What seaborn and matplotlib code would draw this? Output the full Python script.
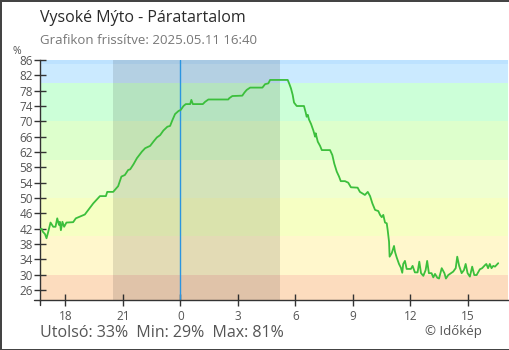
import matplotlib
matplotlib.use("Agg")
import matplotlib.pyplot as plt
import numpy as np
import pandas as pd
import seaborn as sns

# Relative humidity, hours relative to midnight (negative = previous day)
hours = [
    -7.33, -7.25, -7.18, -7.07, -6.99, -6.90, -6.78, -6.64, -6.52, -6.43,
    -6.34, -6.29, -6.24, -6.16, -6.07, -5.95, -5.60, -5.46, -4.99, -4.81,
    -4.55, -4.20, -3.89, -3.82, -3.51, -3.25, -3.08, -2.90, -2.73,
    -2.62, -2.45, -2.27, -2.01, -1.84, -1.58, -1.41, -1.23, -1.06, -0.89,
    -0.68, -0.54, -0.42, -0.28, -0.10, 0.02, 0.16, 0.28, 0.51, 0.57,
    0.65, 1.17, 1.29, 1.46, 2.50, 2.54, 2.71, 3.23, 3.34, 3.46, 3.64,
    4.28, 4.42, 4.59, 4.68, 5.60, 5.69, 5.77, 5.86, 5.93, 6.07, 6.45,
    6.54, 6.59, 6.65, 6.71, 6.82, 6.94, 7.03, 7.06, 7.17, 7.29, 7.38,
    7.81, 7.93, 8.03, 8.16, 8.28, 8.37, 8.59, 8.76, 8.90, 9.25, 9.37,
    9.63, 9.78, 9.90, 10.02, 10.16, 10.33, 10.42, 10.51, 10.59, 10.68,
    10.77, 10.82, 10.89, 10.92, 11.03, 11.15, 11.20, 11.29, 11.41, 11.51,
    11.58, 11.63, 11.72, 11.81, 12.03, 12.12, 12.24, 12.38, 12.47, 12.56,
    12.68, 12.80, 12.88, 12.97, 13.11, 13.20, 13.29, 13.41, 13.50, 13.64,
    13.78, 13.86, 13.98, 14.12, 14.24, 14.37, 14.45, 14.55, 14.68, 14.80,
    14.89, 14.99, 15.11, 15.23, 15.34, 15.46, 15.63, 15.75, 15.90, 15.97,
    16.06, 16.15, 16.24, 16.33, 16.42, 16.59,
]
humidity = [
    41.8, 42.0, 41.2, 40.6, 39.5, 41.2, 43.6, 42.5, 42.5, 44.7,
    43.0, 43.8, 41.6, 43.8, 42.5, 43.6, 43.7, 44.7, 45.7, 46.9,
    48.6, 50.5, 50.5, 51.6, 51.6, 53.1, 55.6, 56.0, 57.3,
    57.5, 58.8, 60.4, 62.1, 63.0, 63.6, 64.7, 65.8, 66.4, 67.6,
    68.6, 68.8, 70.3, 71.9, 72.7, 73.0, 74.0, 74.5, 74.5, 75.6,
    74.5, 74.5, 75.1, 75.7, 75.7, 76.0, 76.6, 76.7, 77.5, 78.2, 78.8,
    78.8, 79.7, 79.9, 80.8, 80.8, 79.7, 78.6, 76.9, 74.9, 74.0, 74.0,
    72.3, 71.2, 71.7, 70.5, 69.3, 67.6, 66.0, 66.9, 64.7, 63.6, 62.5,
    62.5, 61.2, 59.0, 56.9, 55.6, 54.4, 54.4, 54.0, 52.8, 52.7, 51.6,
    50.8, 51.6, 50.5, 48.6, 46.9, 46.6, 45.6, 45.0, 45.6, 43.6,
    43.4, 41.6, 38.6, 34.7, 35.6, 37.5, 36.0, 34.5, 32.8, 31.8,
    30.5, 32.8, 33.6, 31.5, 31.5, 32.3, 30.6, 30.6, 33.4, 30.4,
    29.7, 31.2, 33.6, 30.4, 30.4, 29.3, 30.2, 29.2, 29.0, 31.7,
    30.4, 29.0, 29.9, 30.4, 30.8, 31.7, 34.7, 32.3, 30.4, 31.2,
    32.8, 30.4, 29.5, 32.1, 29.9, 29.9, 31.4, 31.7, 32.5, 32.8,
    31.7, 32.8, 31.7, 32.3, 32.1, 33.0,
]

# Axis ticks
y_ticks = list(range(26, 87, 4))
x_ticks = [-6, -3, 0, 3, 6, 9, 12, 15]
x_tick_labels = ["18", "21", "0", "3", "6", "9", "12", "15"]

# Humidity category bands (lower, upper, colour)
band_edges = [0, 30, 40, 50, 60, 70, 80, 85, 100]
band_colors = ["#fcdcbe", "#fff7cc", "#f6ffc3", "#efffd0", "#ddffcc",
               "#ccffd8", "#cbeaff", "#bde2ff"]

# Night interval (sunset -> sunrise), hours
night = (-3.51, 5.20)

sns.set_style("ticks")
plt.rcParams["font.family"] = ["Open Sans", "DejaVu Sans"]

fig = plt.figure(figsize=(5.1, 3.5), dpi=100)
fig.patch.set_facecolor("white")
fig.patch.set_edgecolor("#444444")
fig.patch.set_linewidth(2.0)
ax = fig.add_axes([40 / 510, 50 / 350, 468 / 510, 240 / 350])

xmin, xmax = -7.33, 17.10
ymin, ymax = 23.4, 86.0

for lo, hi, col in zip(band_edges[:-1], band_edges[1:], band_colors):
    ax.axhspan(lo, hi, color=col, lw=0, zorder=0)

ax.axvspan(night[0], night[1], color="black", alpha=0.11, lw=0, zorder=1)
ax.axvline(0, color="#2b95e0", lw=1.0, zorder=2)

df = pd.DataFrame({"hour": hours, "rh": humidity})
sns.lineplot(data=df, x="hour", y="rh", ax=ax, color="#3cbf3c",
             lw=1.3, zorder=3, estimator=None, sort=False)

ax.set_xlim(xmin, xmax)
ax.set_ylim(ymin, ymax)
ax.set_xlabel("")
ax.set_ylabel("")
ax.set_yticks(y_ticks)
ax.set_yticklabels([str(t) for t in y_ticks])
ax.set_xticks(x_ticks)
ax.set_xticklabels(x_tick_labels)
ax.tick_params(axis="both", direction="inout", length=8, width=1.0,
               color="#333333", labelcolor="#555555", labelsize=8.5, pad=1)
ax.tick_params(axis="x", pad=3)

for side in ("top", "right"):
    ax.spines[side].set_visible(False)
for side in ("left", "bottom"):
    ax.spines[side].set_color("#333333")
    ax.spines[side].set_linewidth(1.0)

# spines extended a little past the corner
ax.plot([-6 / 468, 0], [0, 0], transform=ax.transAxes, color="#333333",
        lw=1.0, clip_on=False)
ax.plot([0, 0], [-5 / 240, 0], transform=ax.transAxes, color="#333333",
        lw=1.0, clip_on=False)

fig.text(40 / 510, 1 - 18 / 350, "Vysoké Mýto - Páratartalom",
         fontsize=11.5, color="#2a2a2a", va="center", ha="left")
fig.text(40 / 510, 1 - 41 / 350, "Grafikon frissítve: 2025.05.11 16:40",
         fontsize=9.5, color="#777777", va="center", ha="left")
fig.text(17 / 510, 1 - 51 / 350, "%", fontsize=7.5, color="#555555",
         va="center", ha="center")

last_v = humidity[-1]
min_v = min(humidity)
max_v = max(humidity)
fig.text(40 / 510, 1 - 333 / 350,
         f"Utolsó: {last_v:.0f}%  Min: {min_v:.0f}%  Max: {max_v:.0f}%",
         fontsize=11.5, color="#555555", va="center", ha="left")
fig.text(482 / 510, 1 - 331 / 350, "© Időkép", fontsize=9.5,
         color="#555555", va="center", ha="right")

fig.savefig("out.png", dpi=100)
